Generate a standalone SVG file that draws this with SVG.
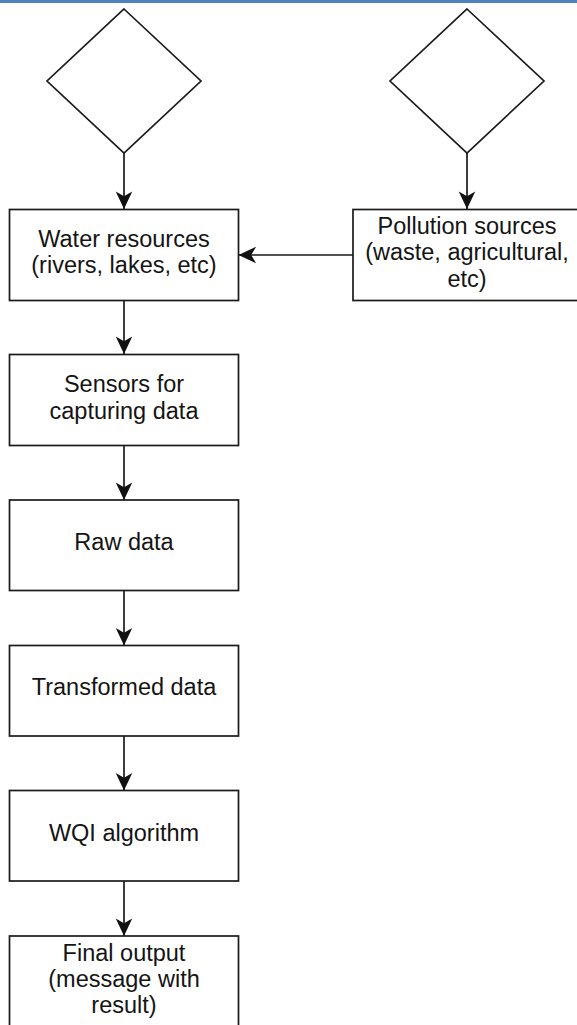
<svg xmlns="http://www.w3.org/2000/svg" width="577" height="1025" viewBox="0 0 577 1025">
<defs>
<style>
.box{fill:#fff;stroke:#1a1a1a;stroke-width:1.7}
.dia{fill:#fff;stroke:#1a1a1a;stroke-width:1.7}
.edge{fill:none;stroke:#1a1a1a;stroke-width:1.7}
.t{font-family:"Liberation Sans",Arial,sans-serif;font-size:23.5px;fill:#141414;text-anchor:middle}
</style>
<marker id="arr" markerUnits="userSpaceOnUse" markerWidth="22" markerHeight="22" viewBox="-18 -10 20 20" refX="0" refY="0" orient="auto">
<path d="M0,0 L-16,-7.5 L-11.5,0 L-16,7.5 Z" fill="#111"/>
</marker>
</defs>
<rect x="0" y="0" width="577" height="1025" fill="#fff"/>
<rect x="0" y="0" width="577" height="3" fill="#4f81bd"/>

<g id="connectors">
<line class="edge" x1="124" y1="153" x2="124" y2="209" marker-end="url(#arr)"/>
<line class="edge" x1="467" y1="153" x2="467" y2="209" marker-end="url(#arr)"/>
<line class="edge" x1="353" y1="255" x2="238.5" y2="255" marker-end="url(#arr)"/>
<line class="edge" x1="124" y1="301" x2="124" y2="354" marker-end="url(#arr)"/>
<line class="edge" x1="124" y1="446" x2="124" y2="500" marker-end="url(#arr)"/>
<line class="edge" x1="124" y1="591" x2="124" y2="645.5" marker-end="url(#arr)"/>
<line class="edge" x1="124" y1="736" x2="124" y2="790.5" marker-end="url(#arr)"/>
<line class="edge" x1="124" y1="881" x2="124" y2="936" marker-end="url(#arr)"/>
</g>

<g id="decision-left">
<polygon class="dia" points="124,9 201,81 124,153 47,81"/>
</g>
<g id="decision-right">
<polygon class="dia" points="467,9 544,81 467,153 390,81"/>
</g>

<g id="water-resources">
<rect class="box" x="9.5" y="209.5" width="229" height="91"/>
<text class="t" x="124" y="247">Water resources</text>
<text class="t" x="124" y="273">(rivers, lakes, etc)</text>
</g>

<g id="pollution-sources">
<rect class="box" x="353" y="209.5" width="229" height="91"/>
<text class="t" x="467" y="233.5">Pollution sources</text>
<text class="t" x="467" y="260">(waste, agricultural,</text>
<text class="t" x="467" y="286.5">etc)</text>
</g>

<g id="sensors">
<rect class="box" x="9.5" y="354.5" width="229" height="91"/>
<text class="t" x="124" y="392">Sensors for</text>
<text class="t" x="124" y="418.5">capturing data</text>
</g>

<g id="raw-data">
<rect class="box" x="9.5" y="500" width="229" height="90.5"/>
<text class="t" x="124" y="550">Raw data</text>
</g>

<g id="transformed-data">
<rect class="box" x="9.5" y="645.5" width="229" height="90.5"/>
<text class="t" x="124" y="694.5">Transformed data</text>
</g>

<g id="wqi-algorithm">
<rect class="box" x="9.5" y="790.5" width="229" height="90.5"/>
<text class="t" x="124" y="840.5">WQI algorithm</text>
</g>

<g id="final-output">
<rect class="box" x="9.5" y="936" width="229" height="100"/>
<text class="t" x="124" y="961">Final output</text>
<text class="t" x="124" y="987">(message with</text>
<text class="t" x="124" y="1012.5">result)</text>
</g>
</svg>
